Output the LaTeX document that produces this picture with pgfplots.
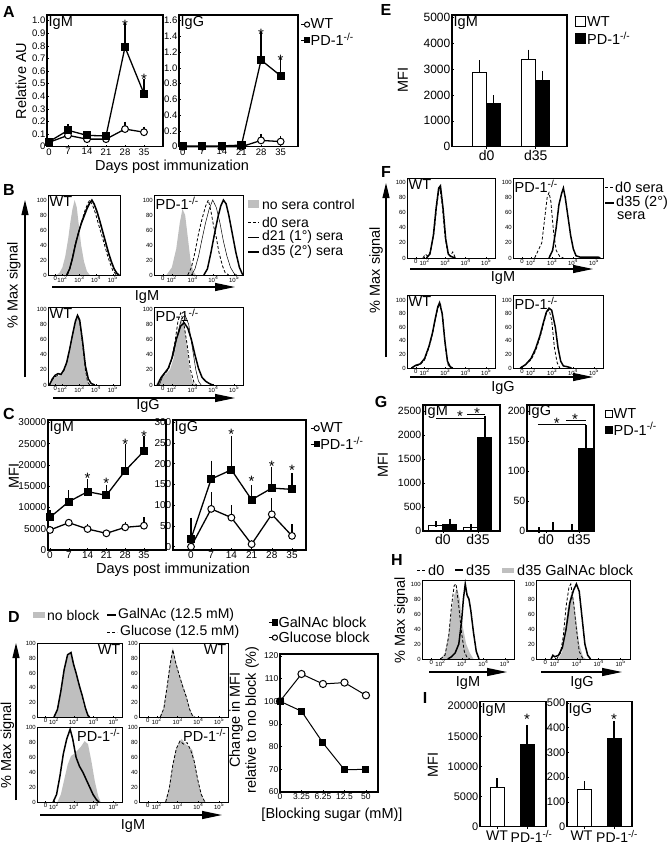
\documentclass[border=0pt]{standalone}
\usepackage{fontspec}
\setmainfont{Liberation Sans}
\usepackage{pgfplots}
\pgfplotsset{compat=1.18}
\usetikzlibrary{arrows.meta}
\newcommand\fz[1]{\fontsize{#1}{#1}\selectfont}
\newcommand\ko{\textsuperscript{-/-}}
\tikzset{
  gf/.style={fill=gray!50, draw=none},
  thk/.style={black, line width=1.5pt},
  thn/.style={black, line width=0.5pt},
  dsh/.style={black, line width=0.8pt, dash pattern=on 3pt off 2pt},
  star/.style={font=\fz{15}, inner sep=0pt, yshift=-3pt},
  lab/.style={font=\fz{16}\bfseries, inner sep=0pt},
  ttl/.style={font=\fz{14.5}, inner sep=1.5pt},
  al/.style={font=\fz{14.5}, inner sep=0pt},
  lg/.style={font=\fz{14}, inner sep=0pt, anchor=west},
  harr/.style={line width=1.2pt, -{Triangle[length=20pt,width=8pt]}},
  varr/.style={line width=1.2pt, -{Triangle[length=15pt,width=7pt]}},
}
\pgfplotsset{
  base/.style={scale only axis, anchor=south west, clip=false, scaled ticks=false,
    axis line style={line width=1.1pt},
    tick style={black, line width=0.5pt}, major tick length=2pt, tick pos=left,
    /pgf/number format/assume math mode=true, /pgf/number format/1000 sep={},
    tick label style={font=\fz{9.5}, inner sep=1.5pt}},
  lc/.style={base, xtick={0,7,14,21,28,35},
    error bars/y dir=plus, error bars/y explicit,
    error bars/error bar style={line width=1.2pt, black},
    error bars/error mark options={mark size=2.5pt, line width=1.2pt, black}},
  ebb/.style={error bars/y dir=plus, error bars/y explicit,
    error bars/error bar style={line width=1.1pt, black},
    error bars/error mark options={mark size=3pt, line width=1.1pt, black}},
  wt/.style={black, line width=1.3pt, mark=*, mark size=3.4pt, mark options={fill=white, line width=1pt, solid}},
  kk/.style={black, line width=1.3pt, mark=square*, mark size=3.4pt, mark options={fill=black, solid}},
  hist/.style={base, xmin=0, xmax=1, ymin=0, ymax=105, axis line style={line width=1pt}, axis on top,
    xtick={0.1,0.2,0.435,0.667,0.9},
    xticklabels={0,10\textsuperscript{2},10\textsuperscript{3},10\textsuperscript{4},10\textsuperscript{5}},
    ytick={0,20,40,60,80,100}, tick label style={font=\fz{6}, inner sep=1pt}, major tick length=1pt},
  bars/.style={base, ybar=0pt, bar width=14pt, xtick={0,1}, xticklabels={d0,d35}, axis on top,
    xticklabel style={font=\fz{14}}, ebb},
}
\begin{document}
\begin{tikzpicture}
\useasboundingbox (0,0) rectangle (668pt,-846pt);

% ================= A =================
\node[lab] at (9pt,-11.5pt) {A};
\node[al, rotate=90] at (21pt,-81pt) {Relative AU};
\begin{axis}[lc, at={(47pt,-146.7pt)}, width=116pt, height=131.7pt,
  xmin=-0.74, xmax=42, ymin=0, ymax=1.045,
  ytick={0,0.1,0.2,0.3,0.4,0.5,0.6,0.7,0.8,0.9,1},
  yticklabels={0,0.1,0.2,0.3,0.4,0.5,0.6,0.7,0.8,0.9,1.0}]
\addplot[wt] coordinates {(0,0.035)+-(0,0.005) (7,0.09)+-(0,0.02) (14,0.06)+-(0,0.01) (21,0.06)+-(0,0.01) (28,0.14)+-(0,0.04) (35,0.115)+-(0,0.025)};
\addplot[kk] coordinates {(0,0.04)+-(0,0.01) (7,0.13)+-(0,0.03) (14,0.09)+-(0,0.01) (21,0.085)+-(0,0.01) (28,0.79)+-(0,0.175) (35,0.42)+-(0,0.1)};
\node[star] at (axis cs:28,0.99) {*};
\node[star] at (axis cs:35,0.555) {*};
\node[ttl, anchor=north west] at (rel axis cs:0,1) {IgM};
\end{axis}
\begin{axis}[lc, at={(179pt,-146.7pt)}, width=119pt, height=131.7pt,
  xmin=-1.32, xmax=41.2, ymin=0, ymax=1.672,
  ytick={0,0.2,0.4,0.6,0.8,1,1.2,1.4,1.6},
  yticklabels={0,0.2,0.4,0.6,0.8,1.0,1.2,1.4,1.6},
  legend style={draw=none, fill=none, at={(1.02,0.98)}, anchor=north west, font=\fz{14.5}, inner sep=0pt, row sep=1pt, nodes={inner sep=1pt}},
  legend cell align=left,
  legend image code/.code={\draw[mark repeat=2,mark phase=2,#1, mark size=2.6pt, line width=1pt] plot coordinates {(0pt,0pt) (6pt,0pt)};}]
\addplot[wt] coordinates {(0,0)+-(0,0) (7,0)+-(0,0) (14,0)+-(0,0) (21,0)+-(0,0) (28,0.08)+-(0,0.05) (35,0.065)+-(0,0.04)};
\addlegendentry{WT}
\addplot[kk] coordinates {(0,0.01)+-(0,0) (7,0.01)+-(0,0) (14,0.01)+-(0,0) (21,0.02)+-(0,0) (28,1.1)+-(0,0.32) (35,0.9)+-(0,0.19)};
\addlegendentry{PD-1\ko}
\node[star] at (axis cs:28,1.46) {*};
\node[star] at (axis cs:35,1.14) {*};
\node[ttl, anchor=north west] at (rel axis cs:0,1) {IgG};
\end{axis}
\node[al] at (172pt,-167pt) {Days post immunization};

% ================= B =================
\node[lab] at (9pt,-190pt) {B};
\draw[varr] (25pt,-377pt) -- (25pt,-200pt);
\node[al, rotate=90] at (14pt,-285pt) {\% Max signal};
\begin{axis}[hist, at={(48pt,-275pt)}, width=72pt, height=80pt, ymax=106.7]
\addplot[gf] coordinates {(0.12,0)(0.16,3)(0.2,10)(0.24,25)(0.28,48)(0.31,70)(0.34,88)(0.37,100)(0.4,90)(0.43,65)(0.46,40)(0.5,18)(0.54,5)(0.58,0)} \closedcycle;
\addplot[dsh] coordinates {(0.27,0)(0.31,10)(0.35,28)(0.39,45)(0.43,58)(0.47,72)(0.51,85)(0.55,95)(0.58,100)(0.62,93)(0.66,82)(0.7,68)(0.74,55)(0.78,42)(0.82,28)(0.86,16)(0.9,6)(0.95,0)};
\addplot[thn] coordinates {(0.26,0)(0.3,9)(0.34,24)(0.38,42)(0.42,56)(0.46,70)(0.5,80)(0.54,90)(0.58,97)(0.61,99)(0.64,94)(0.68,83)(0.72,70)(0.76,56)(0.8,42)(0.84,28)(0.88,16)(0.92,7)(0.96,1)(0.98,0)};
\addplot[thk] coordinates {(0.26,0)(0.3,8)(0.34,22)(0.38,40)(0.42,55)(0.46,68)(0.5,78)(0.54,88)(0.58,96)(0.61,100)(0.64,95)(0.68,85)(0.72,72)(0.76,58)(0.8,44)(0.84,30)(0.88,18)(0.92,8)(0.96,2)(0.99,0)};
\node[ttl, anchor=north west] at (rel axis cs:0,1) {WT};
\end{axis}
\begin{axis}[hist, at={(154pt,-275pt)}, width=89pt, height=80pt, ymax=106.7]
\addplot[gf] coordinates {(0.14,0)(0.2,10)(0.25,35)(0.29,70)(0.32,88)(0.35,80)(0.38,50)(0.41,20)(0.44,5)(0.47,0)} \closedcycle;
\addplot[dsh] coordinates {(0.38,0)(0.42,10)(0.46,30)(0.5,55)(0.54,75)(0.58,92)(0.61,100)(0.64,85)(0.67,65)(0.7,50)(0.73,30)(0.77,12)(0.8,3)(0.84,0)};
\addplot[thn] coordinates {(0.42,0)(0.46,8)(0.5,25)(0.54,48)(0.58,70)(0.62,88)(0.66,100)(0.7,90)(0.74,70)(0.78,45)(0.82,25)(0.86,10)(0.9,2)(0.93,0)};
\addplot[thk] coordinates {(0.56,0)(0.6,8)(0.64,30)(0.68,55)(0.72,78)(0.75,92)(0.78,100)(0.81,95)(0.84,80)(0.88,55)(0.92,30)(0.96,10)(0.99,2)(1,0)};
\node[ttl, anchor=north west] at (rel axis cs:0,1) {PD-1\ko};
\end{axis}
\draw[harr] (52pt,-287pt) -- (235pt,-287pt);
\node[al] at (147pt,-297pt) {IgM};
\fill[gray!50] (248pt,-200pt) rectangle (259pt,-208pt);
\node[lg] at (262pt,-204pt) {no sera control};
\draw[dsh] (248pt,-222pt) -- (259pt,-222pt);
\node[lg] at (262pt,-222pt) {d0 sera};
\draw[thn] (248pt,-237pt) -- (259pt,-237pt);
\node[lg] at (262pt,-237pt) {d21 (1°) sera};
\draw[thk, line width=2.2pt] (248pt,-252pt) -- (259pt,-252pt);
\node[lg] at (262pt,-252pt) {d35 (2°) sera};
\begin{axis}[hist, at={(48pt,-385pt)}, width=72pt, height=78pt, ymax=103]
\addplot[gf] coordinates {(0.02,0)(0.06,6)(0.1,10)(0.14,12)(0.18,13)(0.22,18)(0.26,28)(0.3,45)(0.34,65)(0.38,82)(0.41,90)(0.44,85)(0.48,55)(0.52,22)(0.55,5)(0.58,0)} \closedcycle;
\addplot[dsh] coordinates {(0.02,0)(0.06,7)(0.1,11)(0.14,13)(0.18,14)(0.22,19)(0.26,29)(0.3,46)(0.34,66)(0.38,83)(0.41,91)(0.44,84)(0.48,54)(0.52,20)(0.55,4)(0.58,0)};
\addplot[thk] coordinates {(0.02,0)(0.06,8)(0.1,13)(0.14,15)(0.18,14)(0.22,20)(0.26,30)(0.3,47)(0.34,66)(0.38,84)(0.41,92)(0.44,86)(0.48,58)(0.52,25)(0.56,8)(0.6,2)(0.65,0)};
\node[ttl, anchor=north west] at (rel axis cs:0,1) {WT};
\end{axis}
\begin{axis}[hist, at={(154pt,-385pt)}, width=89pt, height=78pt, ymax=103]
\addplot[gf] coordinates {(0.02,0)(0.06,8)(0.1,12)(0.14,15)(0.18,20)(0.22,35)(0.26,60)(0.29,80)(0.31,86)(0.34,78)(0.37,50)(0.4,20)(0.43,5)(0.46,0)} \closedcycle;
\addplot[dsh] coordinates {(0.04,0)(0.08,10)(0.12,15)(0.16,20)(0.2,35)(0.24,60)(0.27,85)(0.3,95)(0.33,85)(0.37,55)(0.41,20)(0.45,3)(0.48,0)};
\addplot[thn] coordinates {(0.06,0)(0.1,12)(0.16,22)(0.22,40)(0.27,70)(0.31,88)(0.35,92)(0.39,80)(0.43,50)(0.47,20)(0.5,5)(0.53,0)};
\addplot[thk] coordinates {(0.04,0)(0.08,10)(0.12,16)(0.16,22)(0.2,35)(0.25,60)(0.3,78)(0.34,82)(0.38,75)(0.42,60)(0.46,40)(0.5,22)(0.54,10)(0.58,5)(0.62,2)(0.66,0)};
\node[ttl, anchor=north west] at (rel axis cs:0,1) {PD-1\ko};
\end{axis}
\draw[harr] (53pt,-398pt) -- (235pt,-398pt);
\node[al] at (148pt,-406pt) {IgG};

% ================= C =================
\node[lab] at (9pt,-414pt) {C};
\node[al, rotate=90] at (14pt,-476pt) {MFI};
\begin{axis}[lc, at={(48pt,-550pt)}, width=118pt, height=130pt,
  xmin=-0.74, xmax=43.2, ymin=0, ymax=30540,
  ytick={0,5000,10000,15000,20000,25000,30000}, tick label style={font=\fz{10}}]
\addplot[wt] coordinates {(0,4700)+-(0,300) (7,6410)+-(0,400) (14,4930)+-(0,500) (21,3920)+-(0,300) (28,5330)+-(0,700) (35,5710)+-(0,1340)};
\addplot[kk] coordinates {(0,7680)+-(0,1080) (7,11350)+-(0,2110) (14,13700)+-(0,2350) (21,12850)+-(0,1880) (28,18630)+-(0,5640) (35,23260)+-(0,2820)};
\node[star] at (axis cs:14,17620) {*};
\node[star] at (axis cs:21,16280) {*};
\node[star] at (axis cs:28,25610) {*};
\node[star] at (axis cs:35,27420) {*};
\node[ttl, anchor=north west] at (rel axis cs:0,1) {IgM};
\end{axis}
\begin{axis}[lc, at={(173pt,-550pt)}, width=133pt, height=130pt,
  xmin=-6.24, xmax=39.85, ymin=-8, ymax=305,
  ytick={0,50,100,150,200,250,300}, tick label style={font=\fz{10}},
  legend style={draw=none, fill=none, at={(1.03,0.99)}, anchor=north west, font=\fz{14.5}, inner sep=0pt, row sep=1pt, nodes={inner sep=1pt}},
  legend cell align=left,
  legend image code/.code={\draw[mark repeat=2,mark phase=2,#1, mark size=2.6pt, line width=1pt] plot coordinates {(0pt,0pt) (6pt,0pt)};}]
\addplot[wt] coordinates {(0,0)+-(0,0) (7,91)+-(0,34) (14,70)+-(0,24) (21,6)+-(0,4) (28,78)+-(0,32) (35,26)+-(0,22)};
\addlegendentry{WT}
\addplot[kk] coordinates {(0,19)+-(0,45) (7,163)+-(0,38) (14,185)+-(0,76) (21,113)+-(0,29) (28,141)+-(0,46) (35,138)+-(0,33)};
\addlegendentry{PD-1\ko}
\node[star] at (axis cs:14,277) {*};
\node[star] at (axis cs:21,165) {*};
\node[star] at (axis cs:28,201) {*};
\node[star] at (axis cs:35,191) {*};
\node[ttl, anchor=north west] at (rel axis cs:0,1) {IgG};
\end{axis}
\node[al] at (173pt,-570pt) {Days post immunization};

% ================= D =================
\node[lab] at (14pt,-617pt) {D};
\fill[gray!50] (33pt,-612pt) rectangle (45pt,-618pt);
\node[lg] at (47pt,-615pt) {no block};
\draw[thk] (107pt,-615pt) -- (116pt,-615pt);
\node[lg] at (118pt,-615pt) {GalNAc (12.5 mM)};
\draw[dsh] (107pt,-632pt) -- (117pt,-632pt);
\node[lg] at (120pt,-632pt) {Glucose (12.5 mM)};
\draw[varr] (16pt,-800pt) -- (16pt,-643pt);
\node[al, rotate=90] at (7.5pt,-745pt) {\% Max signal};
\begin{axis}[hist, at={(37pt,-717pt)}, width=85pt, height=74pt, ymax=101]
\addplot[gf] coordinates {(0.19,0)(0.23,8)(0.27,30)(0.31,60)(0.35,80)(0.39,88)(0.43,75)(0.47,55)(0.51,35)(0.55,15)(0.59,3)(0.62,0)} \closedcycle;
\addplot[thk] coordinates {(0.2,0)(0.24,10)(0.28,35)(0.32,65)(0.36,85)(0.4,88)(0.43,72)(0.46,60)(0.5,42)(0.53,30)(0.57,12)(0.6,2)(0.62,0)};
\node[ttl, anchor=north east] at (rel axis cs:1,1) {WT};
\end{axis}
\begin{axis}[hist, at={(139pt,-717pt)}, width=89pt, height=74pt, ymax=101]
\addplot[gf] coordinates {(0.23,0)(0.27,10)(0.31,40)(0.35,75)(0.38,95)(0.41,78)(0.45,60)(0.49,45)(0.53,30)(0.57,12)(0.6,3)(0.63,0)} \closedcycle;
\addplot[dsh] coordinates {(0.24,0)(0.28,12)(0.32,45)(0.35,72)(0.38,92)(0.41,75)(0.45,58)(0.49,42)(0.53,28)(0.57,10)(0.6,2)(0.63,0)};
\node[ttl, anchor=north east] at (rel axis cs:1,1) {WT};
\end{axis}
\begin{axis}[hist, at={(37pt,-802pt)}, width=85pt, height=75pt, ymax=101]
\addplot[gf] coordinates {(0.24,0)(0.28,10)(0.32,30)(0.36,50)(0.4,62)(0.44,65)(0.48,70)(0.52,75)(0.56,82)(0.6,78)(0.64,55)(0.68,28)(0.72,8)(0.75,0)} \closedcycle;
\addplot[thk] coordinates {(0.19,0)(0.23,10)(0.27,35)(0.31,65)(0.35,85)(0.39,98)(0.42,85)(0.46,60)(0.5,48)(0.54,40)(0.58,30)(0.62,20)(0.66,10)(0.7,3)(0.73,0)};
\node[ttl, anchor=north east] at (rel axis cs:1,1) {PD-1\ko};
\end{axis}
\begin{axis}[hist, at={(139pt,-802pt)}, width=89pt, height=75pt, ymax=101]
\addplot[gf] coordinates {(0.29,0)(0.33,15)(0.37,45)(0.41,70)(0.45,80)(0.48,85)(0.52,78)(0.56,75)(0.6,70)(0.64,45)(0.68,20)(0.72,5)(0.75,0)} \closedcycle;
\addplot[dsh] coordinates {(0.3,0)(0.34,18)(0.38,50)(0.42,72)(0.46,82)(0.5,78)(0.54,80)(0.58,70)(0.62,55)(0.66,30)(0.7,10)(0.74,0)};
\node[ttl, anchor=north east] at (rel axis cs:1,1) {PD-1\ko};
\end{axis}
\draw[harr] (40pt,-815pt) -- (222pt,-815pt);
\node[al] at (133pt,-826pt) {IgM};
% D right
\node[font=\fontsize{14.5}{16}\selectfont, rotate=90, align=center, inner sep=0pt] at (244pt,-720pt) {Change in MFI\\relative to no block (\%)};
\begin{axis}[base, at={(280pt,-792pt)}, width=98pt, height=138pt,
  xmin=0, xmax=4.56, ymin=60, ymax=120.8, xtick={0,1,2,3,4},
  xticklabels={0,3.25,6.25,12.5,50}, ytick={60,70,80,90,100,110,120},
  tick label style={font=\fz{8.5}}, reverse legend,
  legend style={draw=none, fill=none, at={(-0.12,1.28)}, anchor=north west, font=\fz{14.5}, inner sep=0pt, row sep=1pt, nodes={inner sep=1pt}},
  legend cell align=left,
  legend image code/.code={\draw[mark repeat=2,mark phase=2,#1, mark size=2.6pt, line width=1pt] plot coordinates {(0pt,0pt) (6pt,0pt)};}]
\addplot[wt, line width=1pt, mark size=3.6pt] coordinates {(0,100)(1,112)(2,107.6)(3,108.2)(4,102.6)};
\addlegendentry{Glucose block}
\addplot[kk, line width=1pt, mark size=3pt] coordinates {(0,100)(1,95.6)(2,81.6)(3,69.8)(4,70)};
\addlegendentry{GalNAc block}
\end{axis}
\node[al] at (332pt,-815pt) {[Blocking sugar (mM)]};

% ================= E =================
\node[lab] at (386pt,-10pt) {E};
\node[al, rotate=90] at (403pt,-80pt) {MFI};
\begin{axis}[bars, at={(452pt,-146.7pt)}, width=115pt, height=131.7pt,
  xmin=-0.708, xmax=1.639, ymin=0, ymax=5090, ytick={0,1000,2000,3000,4000,5000},
  yticklabel style={font=\fz{12}},
  legend style={draw=none, fill=none, at={(1.07,1)}, anchor=north west, font=\fz{14.5}, inner sep=0pt, row sep=2pt, nodes={inner sep=1pt}},
  legend cell align=left,
  legend image code/.code={\draw[#1, line width=0.9pt] (0pt,-4.5pt) rectangle (10pt,5pt);}]
\addplot[fill=white, draw=black, line width=1pt] coordinates {(0,2876)+-(0,348) (1,3351)+-(0,283)};
\addlegendentry{WT}
\addplot[fill=black, draw=black, line width=1pt] coordinates {(0,1677)+-(0,193) (1,2551)+-(0,259)};
\addlegendentry{PD-1\ko}
\node[ttl, anchor=north west] at (rel axis cs:0,1) {IgM};
\end{axis}

% ================= F =================
\node[lab] at (386pt,-172pt) {F};
\draw[varr] (386pt,-357pt) -- (386pt,-183pt);
\node[al, rotate=90] at (376pt,-270pt) {\% Max signal};
\begin{axis}[hist, at={(407pt,-258pt)}, width=88pt, height=80pt, ymax=105.3]
\addplot[dsh] coordinates {(0.18,0)(0.21,5)(0.24,2)(0.27,10)(0.31,35)(0.34,70)(0.37,95)(0.4,70)(0.43,30)(0.46,8)(0.49,2)(0.52,8)(0.55,0)};
\addplot[thk] coordinates {(0.22,0)(0.26,5)(0.3,30)(0.33,65)(0.36,92)(0.38,95)(0.41,65)(0.44,25)(0.47,5)(0.5,2)(0.55,0)};
\node[ttl, anchor=north west] at (rel axis cs:0,1) {WT};
\end{axis}
\begin{axis}[hist, at={(513pt,-258pt)}, width=90pt, height=80pt, ymax=105.3]
\addplot[dsh] coordinates {(0.24,0)(0.28,10)(0.32,20)(0.35,50)(0.38,80)(0.4,86)(0.42,75)(0.45,35)(0.48,10)(0.52,2)(0.56,0)};
\addplot[thk] coordinates {(0.4,0)(0.44,10)(0.48,40)(0.51,70)(0.54,85)(0.56,92)(0.58,80)(0.61,55)(0.64,30)(0.67,12)(0.7,3)(0.75,1)(0.95,1)(0.97,0)};
\node[ttl, anchor=north west] at (rel axis cs:0,1) {PD-1\ko};
\end{axis}
\draw[harr] (410pt,-269pt) -- (593pt,-269pt);
\node[al] at (503pt,-278pt) {IgM};
\begin{axis}[hist, at={(407pt,-368pt)}, width=88pt, height=73pt, ymax=107.4]
\addplot[dsh] coordinates {(0.05,0)(0.1,3)(0.15,5)(0.2,12)(0.25,30)(0.29,50)(0.32,70)(0.35,88)(0.38,95)(0.41,70)(0.44,25)(0.47,3)(0.5,0)};
\addplot[thk] coordinates {(0.05,0)(0.1,4)(0.15,6)(0.2,14)(0.25,32)(0.29,52)(0.32,72)(0.35,90)(0.37,96)(0.4,80)(0.43,40)(0.46,10)(0.49,2)(0.52,0)};
\node[ttl, anchor=north west] at (rel axis cs:0,1) {WT};
\end{axis}
\begin{axis}[hist, at={(513pt,-368pt)}, width=90pt, height=73pt, ymax=107.4]
\addplot[dsh] coordinates {(0.08,0)(0.14,5)(0.2,12)(0.25,25)(0.3,45)(0.34,65)(0.37,80)(0.4,86)(0.43,70)(0.46,30)(0.49,8)(0.52,0)};
\addplot[thk] coordinates {(0.08,0)(0.14,5)(0.2,14)(0.25,28)(0.3,48)(0.34,68)(0.37,82)(0.4,88)(0.43,85)(0.47,60)(0.5,30)(0.53,10)(0.56,3)(0.6,2)(0.65,0)};
\node[ttl, anchor=north west] at (rel axis cs:0,1) {PD-1\ko};
\end{axis}
\draw[harr] (410pt,-377pt) -- (593pt,-377pt);
\node[al] at (503pt,-388pt) {IgG};
\draw[dsh] (605pt,-187pt) -- (613pt,-187pt);
\node[lg, font=\fz{14.5}] at (615pt,-187pt) {d0 sera};
\draw[thk, line width=2.2pt] (605pt,-203pt) -- (614pt,-203pt);
\node[lg, font=\fz{14.5}] at (616pt,-203pt) {d35 (2°)};
\node[lg, font=\fz{14.5}] at (617pt,-216pt) {sera};

% ================= G =================
\node[lab] at (381pt,-402pt) {G};
\node[al, rotate=90] at (383pt,-465pt) {MFI};
\begin{axis}[bars, at={(423pt,-531pt)}, width=77pt, height=126pt,
  xmin=-0.571, xmax=1.629, ymin=0, ymax=2625, ytick={0,500,1000,1500,2000,2500},
  yticklabel style={font=\fz{10.5}}]
\addplot[fill=white, draw=black, line width=1pt] coordinates {(0,110)+-(0,36) (1,69)+-(0,10)};
\addplot[fill=black, draw=black, line width=1pt] coordinates {(0,146)+-(0,48) (1,1958)+-(0,375)};
\draw[line width=0.9pt] (axis cs:-0.2,2354) -- (axis cs:1.2,2354);
\draw[line width=0.9pt] (axis cs:0.686,2437) -- (axis cs:1.2,2437);
\node[star] at (axis cs:0.486,2458) {*};
\node[star] at (axis cs:0.97,2521) {*};
\node[ttl, anchor=north west, inner sep=0.5pt] at (rel axis cs:0,1) {IgM};
\end{axis}
\begin{axis}[bars, at={(527pt,-531pt)}, width=67pt, height=126pt,
  xmin=-0.576, xmax=1.455, ymin=0, ymax=210, ytick={0,50,100,150,200},
  yticklabel style={font=\fz{10.5}},
  legend style={draw=none, fill=none, at={(1.16,0.985)}, anchor=north west, font=\fz{14.5}, inner sep=0pt, row sep=1pt, nodes={inner sep=1pt}},
  legend cell align=left,
  legend image code/.code={\draw[#1, line width=0.8pt] (0pt,-3.5pt) rectangle (7pt,3.5pt);}]
\addplot[fill=white, draw=black, line width=1pt] coordinates {(0,0)+-(0,1) (1,0)+-(0,7)};
\addlegendentry{WT}
\addplot[fill=black, draw=black, line width=1pt] coordinates {(0,0)+-(0,10) (1,138)+-(0,34)};
\addlegendentry{PD-1\ko}
\draw[line width=0.9pt] (axis cs:-0.25,178) -- (axis cs:1.21,178);
\draw[line width=0.9pt] (axis cs:0.6,184) -- (axis cs:1.21,184);
\node[star] at (axis cs:0.33,184) {*};
\node[star] at (axis cs:0.88,190.5) {*};
\node[ttl, anchor=north west, inner sep=0.5pt] at (rel axis cs:0,1) {IgG};
\end{axis}

% ================= H =================
\node[lab] at (397pt,-560pt) {H};
\draw[dsh] (417pt,-570pt) -- (426pt,-570pt);
\node[lg, font=\fz{14.5}] at (428pt,-570pt) {d0};
\draw[thk] (455pt,-570pt) -- (463pt,-570pt);
\node[lg, font=\fz{14.5}] at (466pt,-570pt) {d35};
\fill[gray!50] (502pt,-567.5pt) rectangle (514pt,-572.5pt);
\node[lg, font=\fz{14.5}] at (517pt,-570pt) {d35 GalNAc block};
\node[al, rotate=90] at (401pt,-620pt) {\% Max signal};
\begin{axis}[hist, at={(422pt,-659pt)}, width=92pt, height=79pt, ymax=105.3]
\addplot[gf] coordinates {(0.2,0)(0.25,8)(0.29,35)(0.32,65)(0.35,85)(0.38,95)(0.41,80)(0.44,45)(0.48,20)(0.52,8)(0.56,0)} \closedcycle;
\addplot[dsh] coordinates {(0.2,0)(0.25,5)(0.29,30)(0.32,70)(0.35,98)(0.37,100)(0.4,70)(0.43,35)(0.46,10)(0.49,2)(0.52,0)};
\addplot[thk] coordinates {(0.28,0)(0.32,3)(0.36,8)(0.4,20)(0.43,50)(0.45,80)(0.47,100)(0.49,85)(0.51,80)(0.53,65)(0.56,35)(0.59,10)(0.62,0)};
\end{axis}
\begin{axis}[hist, at={(536pt,-659pt)}, width=94pt, height=79pt, ymax=105.3]
\addplot[gf] coordinates {(0.24,0)(0.28,10)(0.31,40)(0.34,70)(0.37,85)(0.4,80)(0.43,50)(0.46,20)(0.5,3)(0.53,0)} \closedcycle;
\addplot[dsh] coordinates {(0.22,0)(0.26,8)(0.29,30)(0.32,70)(0.35,95)(0.37,100)(0.4,75)(0.43,40)(0.46,10)(0.5,0)};
\addplot[thk] coordinates {(0.16,0)(0.18,5)(0.2,3)(0.24,5)(0.28,15)(0.32,40)(0.36,75)(0.4,92)(0.43,100)(0.46,90)(0.49,55)(0.52,20)(0.55,5)(0.58,0)};
\end{axis}
\draw[harr] (429pt,-672pt) -- (507pt,-672pt);
\node[al] at (468pt,-683pt) {IgM};
\draw[harr] (541pt,-672pt) -- (622pt,-672pt);
\node[al] at (582pt,-683pt) {IgG};

% ================= I =================
\node[lab] at (425pt,-698pt) {I};
\node[al, rotate=90] at (433pt,-765pt) {MFI};
\begin{axis}[base, ybar, bar width=14pt, axis on top, ebb, at={(480pt,-826.7pt)}, width=66pt, height=125pt,
  xmin=-0.567, xmax=1.633, ymin=0, ymax=20720, xtick={0,1}, xticklabels={WT,\hspace*{9pt}PD-1\ko},
  ytick={0,5000,10000,15000,20000}, yticklabel style={font=\fz{11}}, xticklabel style={font=\fz{14}}]
\addplot[fill=white, draw=black, line width=1pt, bar shift=0pt] coordinates {(0,6530)+-(0,1045)};
\addplot[fill=black, draw=black, line width=1pt, bar shift=0pt] coordinates {(1,13660)+-(0,2650)};
\node[star] at (axis cs:1,18230) {*};
\node[ttl, anchor=north west] at (rel axis cs:0,1) {IgM};
\end{axis}
\begin{axis}[base, ybar, bar width=14pt, axis on top, ebb, at={(567pt,-826.7pt)}, width=65pt, height=125pt,
  xmin=-0.593, xmax=1.61, ymin=0, ymax=505, xtick={0,1}, xticklabels={WT\hspace*{6pt},\hspace*{6pt}PD-1\ko},
  ytick={0,100,200,300,400,500}, yticklabel style={font=\fz{11}}, xticklabel style={font=\fz{14}}]
\addplot[fill=white, draw=black, line width=1pt, bar shift=0pt] coordinates {(0,149)+-(0,23)};
\addplot[fill=black, draw=black, line width=1pt, bar shift=0pt] coordinates {(1,355)+-(0,60)};
\node[star] at (axis cs:1,445) {*};
\node[ttl, anchor=north west] at (rel axis cs:0,1) {IgG};
\end{axis}
\end{tikzpicture}
\end{document}
